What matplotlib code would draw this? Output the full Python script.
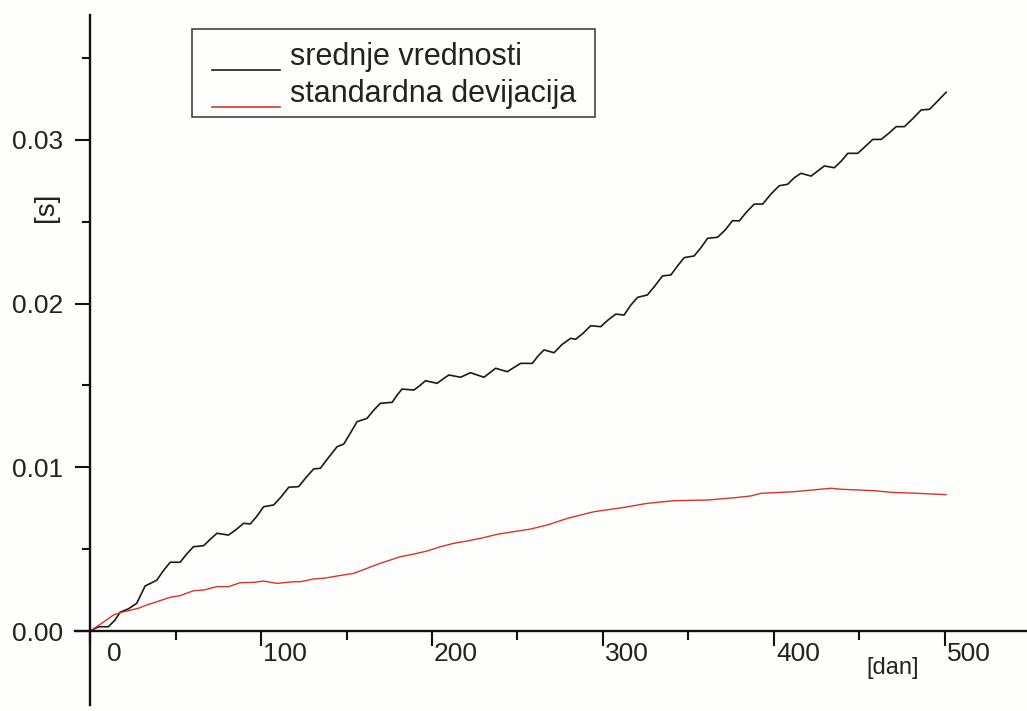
import matplotlib
matplotlib.use("Agg")
import matplotlib.pyplot as plt
import matplotlib.transforms as mtransforms
from matplotlib.lines import Line2D
from matplotlib.patches import Rectangle
from matplotlib.ticker import MultipleLocator, FormatStrFormatter

# values: day -> seconds
mean_days = [0, 4.9, 10.7, 14.6, 17.6, 22.4, 27.3, 32.2, 39.0, 43.0, 46.9, 52.7,
             56.5, 60.5, 66.4, 70.3, 74.2, 81.0, 85.5, 89.8, 93.7, 97.5, 101.5,
             107.4, 111.8, 116.2, 122.0, 126.5, 130.8, 134.7, 139.5, 144.5, 148.4,
             152.3, 156.2, 162.0, 166.0, 169.8, 176.7, 179.5, 182.5, 189.4, 193.0,
             196.2, 203.0, 206.5, 209.9, 216.7, 222.5, 230.4, 237.2, 244.0, 251.8,
             258.7, 262.0, 265.5, 271.4, 276.0, 281.1, 284.0, 288.5, 292.8, 298.7,
             303.0, 307.5, 312.3, 316.2, 320.2, 326.0, 330.5, 334.8, 339.7, 343.6,
             347.5, 353.3, 357.2, 361.2, 367.0, 371.5, 375.8, 379.7, 384.0, 388.5,
             393.4, 398.3, 403.1, 408.0, 412.0, 415.8, 421.7, 425.6, 429.5, 435.3,
             439.3, 443.2, 449.0, 453.4, 457.8, 462.7, 467.1, 471.5, 476.3, 481.2,
             486.1, 491.0, 496.0, 500.7]
mean_vals = [0.0, 0.00026, 0.00026, 0.00067, 0.00115, 0.00135, 0.00169, 0.00275,
             0.00310, 0.00370, 0.00420, 0.00420, 0.00470, 0.00515, 0.00521, 0.00560,
             0.00597, 0.00586, 0.00620, 0.00658, 0.00654, 0.00700, 0.00759, 0.00770,
             0.00820, 0.00878, 0.00882, 0.00940, 0.00990, 0.00994, 0.01060, 0.01126,
             0.01142, 0.01210, 0.01279, 0.01299, 0.01350, 0.01391, 0.01397, 0.01440,
             0.01478, 0.01472, 0.01500, 0.01529, 0.01513, 0.01540, 0.01564, 0.01550,
             0.01578, 0.01550, 0.01605, 0.01584, 0.01635, 0.01635, 0.01680, 0.01717,
             0.01700, 0.01750, 0.01788, 0.01782, 0.01820, 0.01865, 0.01859, 0.01900,
             0.01936, 0.01930, 0.01990, 0.02038, 0.02053, 0.02110, 0.02169, 0.02175,
             0.02230, 0.02281, 0.02291, 0.02340, 0.02399, 0.02405, 0.02450, 0.02507,
             0.02505, 0.02560, 0.02608, 0.02608, 0.02670, 0.02720, 0.02729, 0.02770,
             0.02796, 0.02779, 0.02810, 0.02841, 0.02830, 0.02870, 0.02918, 0.02918,
             0.02960, 0.03003, 0.03003, 0.03040, 0.03081, 0.03081, 0.03130, 0.03183,
             0.03187, 0.03240, 0.03291]

std_days = [0, 6.8, 13.7, 17.6, 28.3, 33.2, 42.0, 46.9, 52.7, 60.5, 66.4, 74.2,
            81.0, 87.8, 95.7, 101.5, 109.3, 119.1, 123.0, 130.8, 136.6, 144.5,
            154.2, 162.0, 169.8, 181.6, 189.4, 197.2, 205.0, 212.8, 220.6, 228.4,
            238.2, 247.9, 257.7, 267.5, 279.2, 294.8, 312.3, 326.0, 341.6, 361.2,
            376.8, 386.5, 392.4, 411.9, 433.4, 439.2, 458.8, 468.5, 484.2, 500.7]
std_vals = [0.0, 0.00047, 0.00098, 0.00112, 0.00139, 0.00159, 0.00189, 0.00206,
            0.00216, 0.00246, 0.00250, 0.00271, 0.00271, 0.00295, 0.00297, 0.00305,
            0.00291, 0.00301, 0.00301, 0.00318, 0.00322, 0.00336, 0.00352, 0.00383,
            0.00414, 0.00454, 0.00470, 0.00489, 0.00515, 0.00536, 0.00550, 0.00566,
            0.00591, 0.00607, 0.00623, 0.00648, 0.00688, 0.00729, 0.00755, 0.00780,
            0.00796, 0.00800, 0.00814, 0.00825, 0.00841, 0.00851, 0.00872, 0.00866,
            0.00857, 0.00847, 0.00841, 0.00833]

labels = ["srednje vrednosti", "standardna devijacija"]
colors = ["#1a1a1a", "#d8352a"]

plt.rcParams['font.family'] = ['Liberation Sans', 'DejaVu Sans']
W, H = 1027, 711
fig = plt.figure(figsize=(W / 100, H / 100), dpi=100, facecolor="#fefefc")

def fx(px):
    return px / W

def fy(py):
    return 1 - py / H

ax = fig.add_axes((fx(75), fy(705), fx(1027) - fx(75), fy(15) - fy(705)))
ax.set_facecolor("none")

ax.plot(mean_days, mean_vals, color=colors[0], lw=1.2, solid_joinstyle='round')
ax.plot(std_days, std_vals, color=colors[1], lw=1.0, solid_joinstyle='round')

ax.set_xlim(-8.8, 548)
ax.set_ylim(-0.00452, 0.03763)

# crossing axes at the origin, open look
for side in ('top', 'right'):
    ax.spines[side].set_color('none')
ax.spines['left'].set_position(('data', 0))
ax.spines['bottom'].set_position(('data', 0))
for side in ('left', 'bottom'):
    ax.spines[side].set_linewidth(1.7)
    ax.spines[side].set_color('#111111')

ax.xaxis.set_major_locator(MultipleLocator(100))
ax.xaxis.set_minor_locator(MultipleLocator(50))
ax.yaxis.set_major_locator(MultipleLocator(0.01))
ax.yaxis.set_minor_locator(MultipleLocator(0.005))
ax.yaxis.set_major_formatter(FormatStrFormatter('%.2f'))

ax.tick_params(axis='both', which='both', direction='out', color='#111111',
               width=1.5, labelcolor='#222222', labelsize=19)
ax.tick_params(axis='x', which='major', length=10.8, pad=-3)
ax.tick_params(axis='x', which='minor', length=6.5)
ax.tick_params(axis='y', which='major', length=10.8, pad=8.6)
ax.tick_params(axis='y', which='minor', length=6.0)

# x tick labels sit to the right of their ticks
shift = mtransforms.ScaledTranslation(0.24, 0, fig.dpi_scale_trans)
for lab in ax.get_xticklabels():
    lab.set_transform(lab.get_transform() + shift)

ax.set_xlabel("[dan]", fontsize=17, color='#222222')
ax.xaxis.set_label_coords((893 - 75) / 952, (705 - 668) / 690)
ax.xaxis.label.set_va('center')
ax.set_ylabel("[s]", fontsize=20, color='#222222')
ax.yaxis.set_label_coords((46 - 75) / 952, (705 - 207) / 690)
ax.yaxis.label.set_va('center')

# legend box drawn by hand so the handles sit under the text baseline
fig.patches.append(Rectangle((fx(192), fy(117)), fx(595) - fx(192), fy(29) - fy(117),
                             transform=fig.transFigure, fill=False,
                             edgecolor='#333333', lw=1.1))
for i, (lab, col) in enumerate(zip(labels, colors)):
    ly = 70 + i * 37
    fig.lines.append(Line2D([fx(212), fx(280)], [fy(ly), fy(ly)],
                            transform=fig.transFigure, color=col, lw=1.2))
    fig.text(fx(290), fy(ly - 5), lab, fontsize=22, color='#222222',
             ha='left', va='baseline')

fig.savefig("out.png", dpi=100, facecolor=fig.get_facecolor())
